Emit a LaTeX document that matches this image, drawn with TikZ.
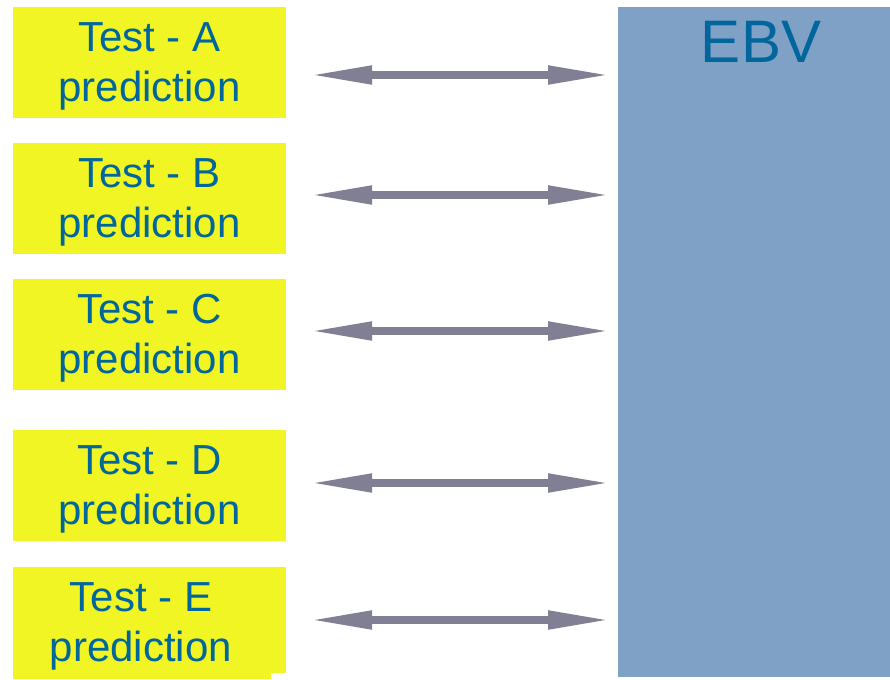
\documentclass[tikz,border=0pt]{standalone}
\usepackage{fontspec}
\setmainfont{Liberation Sans}
\usetikzlibrary{arrows.meta}
\definecolor{boxyellow}{HTML}{F0F523}
\definecolor{txtblue}{HTML}{00669C}
\definecolor{ebvblue}{HTML}{7FA1C6}
\definecolor{arrgray}{HTML}{807F93}
\tikzset{
  boxtext/.style={text=txtblue, align=center, inner sep=0pt, font=\fontsize{42}{50}\selectfont},
  testbox/.style={fill=boxyellow, draw=none, minimum width=273pt, minimum height=111pt,
    inner sep=0pt},
  dblarrow/.style={draw=arrgray, line width=8pt,
    {Triangle[length=64pt,width=17pt]}-{Triangle[length=64pt,width=17pt]}},
}
\begin{document}
\begin{tikzpicture}[x=1pt,y=1pt]
\useasboundingbox (0,0) rectangle (890,-679);
\node[fill=ebvblue, minimum width=272pt, minimum height=670pt, inner sep=0pt, anchor=north west] (ebv) at (618,-7) {};
\node[text=txtblue, font=\fontsize{60}{60}\selectfont, anchor=base] (ebvlabel) at (761,-63) {EBV};
\node[testbox, label={[name=boxAtext, boxtext, yshift=-3.5pt]center:Test - A\\prediction}] (boxA) at (149.5,-62.5) {};
\node[testbox, label={[name=boxBtext, boxtext, yshift=-3.5pt]center:Test - B\\prediction}] (boxB) at (149.5,-198.5) {};
\node[testbox, label={[name=boxCtext, boxtext, yshift=-3.5pt]center:Test - C\\prediction}] (boxC) at (149.5,-334.5) {};
\node[testbox, label={[name=boxDtext, boxtext, yshift=-3.5pt]center:Test - D\\prediction}] (boxD) at (149.5,-485.5) {};
\node[testbox, minimum height=112pt] (boxE) at (149.5,-623) {};
\node[fill=white, inner sep=0pt, minimum width=15pt, minimum height=6pt, anchor=south east] (notch) at (boxE.south east) {};
\node[boxtext] (boxEtext) at (141,-626.5) {Test - E\\prediction};
\draw[dblarrow] ([xshift=22pt,yshift=-12.5pt]boxA.east) -- ([xshift=-6pt,yshift=-12.5pt]boxA.east -| ebv.west);
\draw[dblarrow] ([xshift=22pt,yshift=3.5pt]boxB.east) -- ([xshift=-6pt,yshift=3.5pt]boxB.east -| ebv.west);
\draw[dblarrow] ([xshift=22pt,yshift=3.5pt]boxC.east) -- ([xshift=-6pt,yshift=3.5pt]boxC.east -| ebv.west);
\draw[dblarrow] ([xshift=22pt,yshift=2.5pt]boxD.east) -- ([xshift=-6pt,yshift=2.5pt]boxD.east -| ebv.west);
\draw[dblarrow] ([xshift=22pt,yshift=3pt]boxE.east) -- ([xshift=-6pt,yshift=3pt]boxE.east -| ebv.west);
\end{tikzpicture}
\end{document}
